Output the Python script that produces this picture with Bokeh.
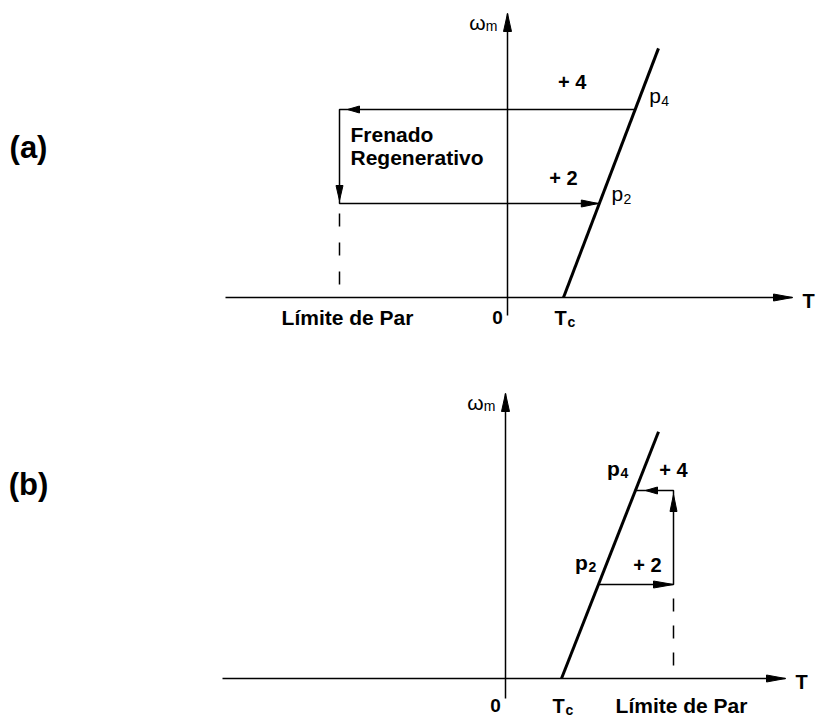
import numpy as np
from bokeh.plotting import figure
from bokeh.models import Range1d, Label
from bokeh.layouts import column
from bokeh.embed import file_html
from bokeh.resources import INLINE
from bokeh.core.properties import value

# ---- operating data (torque in units of Tc, speed in steps) ----
TC = 1.0                          # load torque at standstill (Tc)
LOAD_SLOPE = {"a": 0.32, "b": 0.33}   # dT/dω of the load line
SPEEDS = [2, 4]                   # operating speeds of p2 and p4
SPEED_TEXT = ["+ 2", "+ 4"]
POINT_NAMES = ["2", "4"]
TORQUE_LIMIT = {"a": -3.0, "b": 3.0}  # drive torque limit
LOAD_TOP = {"a": 5.3, "b": 5.25}      # speed where the load line ends

# ---- drawing scale ----
PX_T = 56.0        # pixels per torque unit
PX_W = 47.0        # pixels per speed unit
W = 816
FONT = value("Liberation Sans")


def load_torque(panel, w):
    return TC + LOAD_SLOPE[panel] * np.asarray(w, dtype=float)


def make_panel(height, ox, oy):
    """Blank canvas whose data origin sits at screen pixel (ox, oy)."""
    p = figure(width=W, height=height, output_backend="svg",
               toolbar_location=None,
               x_range=Range1d(-ox / PX_T, (W - ox) / PX_T),
               y_range=Range1d(-(height - oy) / PX_W, oy / PX_W),
               min_border=0, outline_line_color=None)
    p.axis.visible = False
    p.grid.visible = False
    p.background_fill_color = "white"
    p.border_fill_color = "white"
    return p


def head(p, tx, ty, d, length=15, width=7):
    """Filled arrow head with tip at (tx, ty) pointing along screen dir d."""
    dx, dy = d
    bx = tx - dx * length / PX_T
    by = ty - dy * length / PX_W
    px, py = -dy, dx
    xs = [tx, bx + px * width / 2 / PX_T, bx - px * width / 2 / PX_T]
    ys = [ty, by + py * width / 2 / PX_W, by - py * width / 2 / PX_W]
    p.patch(xs, ys, fill_color="black", line_color="black", line_width=1)


def txt(p, x, y, s, dx=0, dy=0, size=19, bold=True, align="center"):
    p.text(x=[x], y=[y], text=[s], x_offset=dx, y_offset=dy,
           text_font=FONT, text_font_size=f"{size}px",
           text_font_style="bold" if bold else "normal",
           text_align=align, text_baseline="middle", text_color="black")


def axes(p, t_left, t_right, w_bottom, w_top):
    p.line([t_left, t_right], [0, 0], line_color="black", line_width=1.5)
    head(p, t_right, 0, (1, 0), length=19, width=7)
    p.line([0, 0], [w_bottom, w_top], line_color="black", line_width=1.5)
    head(p, 0, w_top, (0, 1), length=18, width=8)


def axis_labels(p, panel, w_top, lab_dy, t_tip, omega_dx):
    txt(p, t_tip, 0, "T", dx=16, dy=3, size=20)
    txt(p, 0, w_top, "ω", dx=omega_dx, dy=9, size=21, bold=False)
    txt(p, 0, w_top, "m", dx=omega_dx + 14, dy=12, size=14, bold=False)
    txt(p, 0, 0, "0", dx=-10, dy=lab_dy, size=19)
    txt(p, TC, 0, "T", dx=-3, dy=lab_dy, size=20)
    txt(p, TC, 0, "c", dx=8, dy=lab_dy + 4, size=14)
    txt(p, TORQUE_LIMIT[panel], 0, "Límite de Par", dx=8, dy=lab_dy, size=21)


# ================= panel (a): regenerative braking =================
pa = make_panel(358, 507, 297)
axes(pa, -282 / PX_T, 285 / PX_T, -18 / PX_W, 284 / PX_W)
axis_labels(pa, "a", 284 / PX_W, 20, 285 / PX_T, -30)

w_line = [0.0, LOAD_TOP["a"]]
pa.line(load_torque("a", w_line), w_line, line_color="black", line_width=3)

t2, t4 = load_torque("a", SPEEDS)
lim = TORQUE_LIMIT["a"]
w2, w4 = SPEEDS
pa.line([t4, lim, lim, t2], [w4, w4, w2, w2], line_color="black", line_width=1.5)
head(pa, lim + 8 / PX_T, w4, (-1, 0), length=12, width=7)
head(pa, lim, w2 + 3 / PX_W, (0, -1), length=15, width=7)
head(pa, t2 - 1 / PX_T, w2, (1, 0), length=17, width=7)
pa.line([lim, lim], [w2 - 10 / PX_W, 12 / PX_W], line_color="black",
        line_width=1.5, line_dash="13 16")

txt(pa, t4, w4, SPEED_TEXT[1], dx=-63, dy=-28, size=20)
txt(pa, t2, w2, SPEED_TEXT[0], dx=-36, dy=-26, size=20)
txt(pa, t4, w4, "p", dx=20, dy=-14, size=21, bold=False)
txt(pa, t4, w4, POINT_NAMES[1], dx=30, dy=-9, size=14, bold=False)
txt(pa, t2, w2, "p", dx=18, dy=-10, size=21, bold=False)
txt(pa, t2, w2, POINT_NAMES[0], dx=28, dy=-5, size=14, bold=False)
txt(pa, lim, w4, "Frenado", dx=11, dy=25, size=21, align="left")
txt(pa, lim, w4, "Regenerativo", dx=11, dy=48, size=21, align="left")
pa.add_layout(Label(x=28, y=358 - 147, x_units="screen", y_units="screen",
                    text="(a)", text_align="center", text_baseline="middle",
                    text_font="Liberation Sans", text_font_size="31px",
                    text_font_style="bold", text_color="black"))

# ================= panel (b): motoring up to the torque limit =================
pb = make_panel(359, 505, 320)
axes(pb, -283 / PX_T, 280 / PX_T, -20 / PX_W, 285 / PX_W)
axis_labels(pb, "b", 285 / PX_W, 27, 280 / PX_T, -30)

w_line = [0.0, LOAD_TOP["b"]]
pb.line(load_torque("b", w_line), w_line, line_color="black", line_width=3)

t2, t4 = load_torque("b", SPEEDS)
lim = TORQUE_LIMIT["b"]
pb.line([t2, lim, lim, t4], [w2, w2, w4, w4], line_color="black", line_width=1.5)
head(pb, lim, w2, (1, 0), length=20, width=7)
head(pb, lim, w4 - 4 / PX_W, (0, 1), length=17, width=7)
head(pb, lim - 28 / PX_T, w4, (-1, 0), length=12, width=7)
pb.line([lim, lim], [w2 - 14 / PX_W, 13 / PX_W], line_color="black",
        line_width=1.5, line_dash="13 14")

txt(pb, lim, w4, SPEED_TEXT[1], dx=0, dy=-21, size=20)
txt(pb, lim, w2, SPEED_TEXT[0], dx=-26, dy=-20, size=20)
txt(pb, t4, w4, "p", dx=-22, dy=-22, size=21)
txt(pb, t4, w4, POINT_NAMES[1], dx=-11, dy=-18, size=14)
txt(pb, t2, w2, "p", dx=-17, dy=-22, size=21)
txt(pb, t2, w2, POINT_NAMES[0], dx=-6, dy=-18, size=14)
pb.add_layout(Label(x=28, y=359 - 126, x_units="screen", y_units="screen",
                    text="(b)", text_align="center", text_baseline="middle",
                    text_font="Liberation Sans", text_font_size="31px",
                    text_font_style="bold", text_color="black"))

layout = column(pa, pb, spacing=0)
open("out.html", "w").write(file_html(layout, INLINE))
